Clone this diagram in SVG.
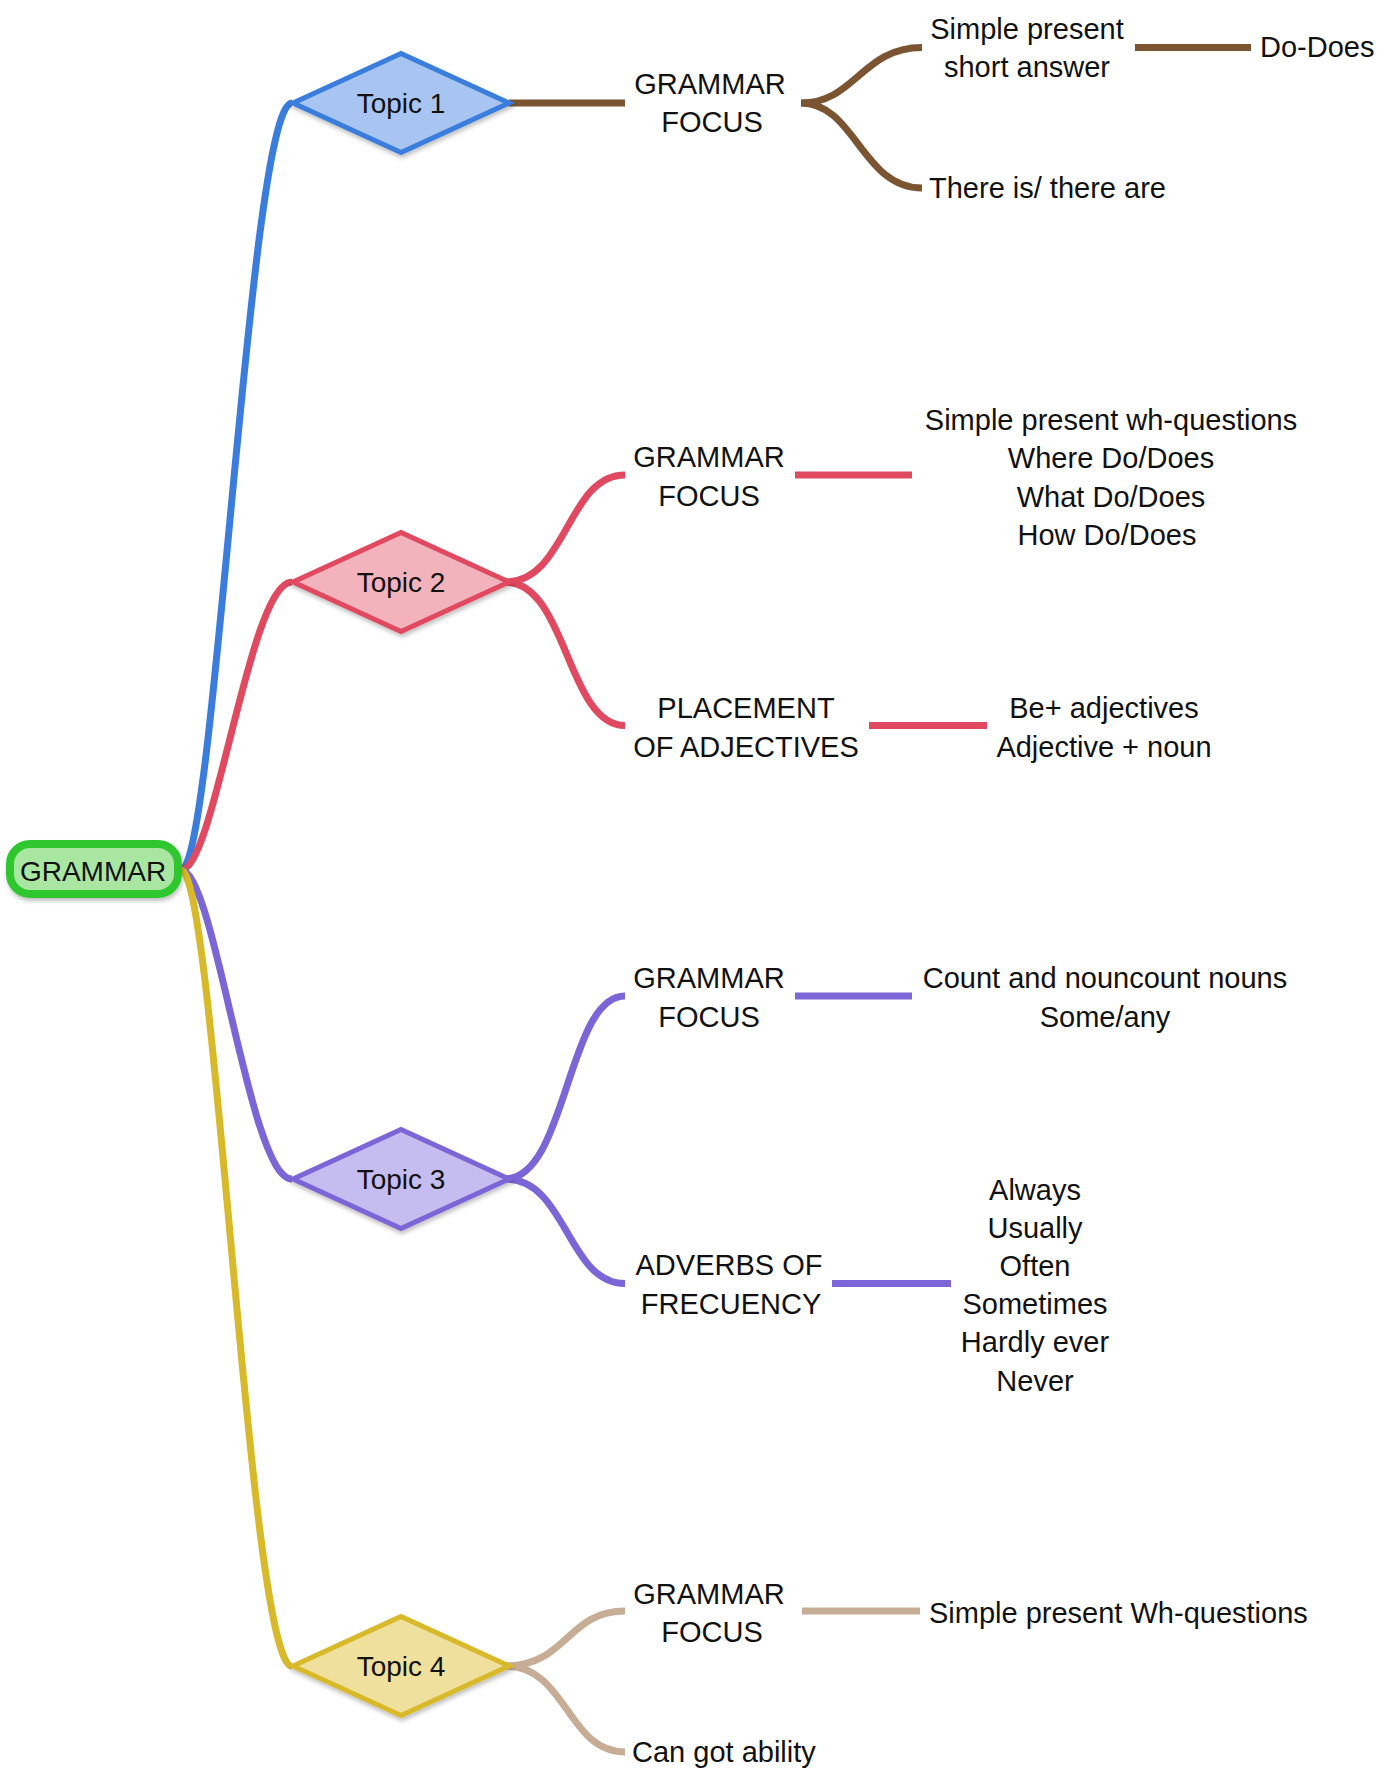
<svg xmlns="http://www.w3.org/2000/svg" width="1390" height="1775" viewBox="0 0 1390 1775">
<defs>
<filter id="sh" x="-10%" y="-10%" width="130%" height="140%">
<feDropShadow dx="1" dy="3" stdDeviation="2" flood-color="#000" flood-opacity="0.25"/>
</filter>
</defs>
<style>
text{font-family:"Liberation Sans",Arial,sans-serif;font-size:29px;fill:#111;}
.c{text-anchor:middle;}
.t{font-size:28px;}
.ln{fill:none;stroke-width:7;stroke-linecap:butt;}
.blue{stroke:#3a7ddc;}
.red{stroke:#e0495f;}
.pur{stroke:#7a66d6;}
.yel{stroke:#d8b92a;}
.brn{stroke:#7b5432;}
.tan{stroke:#c8ad96;}
.dia{stroke-width:5;stroke-linejoin:miter;filter:url(#sh);}
</style>
<rect width="1390" height="1775" fill="#fff"/>
<g id="connectors">
<path class="ln blue" d="M181,870 C215,870 249,103 292,103"/>
<path class="ln red" d="M181,870 C215,870 249,582 292,582"/>
<path class="ln pur" d="M181,870 C215,870 249,1179 292,1179"/>
<path class="ln yel" d="M181,870 C215,870 249,1666 292,1666"/>
<path class="ln brn" d="M509,103 L625,103"/>
<path class="ln brn" d="M801,103 C855,103 862,47.5 922,47.5"/>
<path class="ln brn" d="M801,103 C855,103 862,188 922,188"/>
<path class="ln brn" d="M1135,47.5 L1251,47.5"/>
<path class="ln red" d="M505,582 C567,582 567,475 625,475"/>
<path class="ln red" d="M505,582 C567,582 567,725.5 625,725.5"/>
<path class="ln red" d="M795,475 L912,475"/>
<path class="ln red" d="M869,725.5 L987,725.5"/>
<path class="ln pur" d="M505,1179 C567,1179 567,996 625,996"/>
<path class="ln pur" d="M505,1179 C567,1179 567,1283.5 625,1283.5"/>
<path class="ln pur" d="M795,996 L912,996"/>
<path class="ln pur" d="M832,1283.5 L951,1283.5"/>
<path class="ln tan" d="M505,1666 C567,1666 567,1611 625,1611"/>
<path class="ln tan" d="M505,1666 C567,1666 567,1752 625,1752"/>
<path class="ln tan" d="M802,1611 L920,1611"/>
</g>
<g id="root">
<rect x="10" y="844" width="168" height="50" rx="20" fill="#a9e6a2" stroke="#2fc82f" stroke-width="8" filter="url(#sh)"/>
<text class="c t" x="93" y="881">GRAMMAR</text>
</g>
<g id="topic1">
<polygon class="dia" points="293,103 401,53.5 509,103 401,152.5" fill="#a7c5f0" stroke="#3a7ddc"/>
<text class="c t" x="401" y="113">Topic 1</text>
</g>
<g id="topic2">
<polygon class="dia" points="293,582 401,532.5 509,582 401,631.5" fill="#f2b3bd" stroke="#e0495f"/>
<text class="c t" x="401" y="592">Topic 2</text>
</g>
<g id="topic3">
<polygon class="dia" points="293,1179 401,1129.5 509,1179 401,1228.5" fill="#c5bcef" stroke="#7a66d6"/>
<text class="c t" x="401" y="1189">Topic 3</text>
</g>
<g id="topic4">
<polygon class="dia" points="293,1666 401,1616.5 509,1666 401,1715.5" fill="#efe19d" stroke="#d8b92a"/>
<text class="c t" x="401" y="1676">Topic 4</text>
</g>
<g id="t1-focus"><text class="c" x="710" y="94">GRAMMAR</text><text class="c" x="712" y="132">FOCUS</text></g>
<g id="t1-short"><text class="c" x="1027" y="39">Simple present</text><text class="c" x="1027" y="77">short answer</text></g>
<g id="t1-dodoes"><text x="1260" y="57">Do-Does</text></g>
<g id="t1-there"><text x="929" y="198">There is/ there are</text></g>
<g id="t2-focus"><text class="c" x="709" y="467">GRAMMAR</text><text class="c" x="709" y="506">FOCUS</text></g>
<g id="t2-wh"><text class="c" x="1111" y="430">Simple present wh-questions</text><text class="c" x="1111" y="468">Where Do/Does</text><text class="c" x="1111" y="507">What Do/Does</text><text class="c" x="1107" y="545">How Do/Does</text></g>
<g id="t2-placement"><text class="c" x="746" y="718">PLACEMENT</text><text class="c" x="746" y="757">OF ADJECTIVES</text></g>
<g id="t2-adj"><text class="c" x="1104" y="718">Be+ adjectives</text><text class="c" x="1104" y="757">Adjective + noun</text></g>
<g id="t3-focus"><text class="c" x="709" y="988">GRAMMAR</text><text class="c" x="709" y="1027">FOCUS</text></g>
<g id="t3-count"><text class="c" x="1105" y="988">Count and nouncount nouns</text><text class="c" x="1105" y="1027">Some/any</text></g>
<g id="t3-adverbs"><text class="c" x="729" y="1275">ADVERBS OF</text><text class="c" x="731" y="1314">FRECUENCY</text></g>
<g id="t3-list"><text class="c" x="1035" y="1200">Always</text><text class="c" x="1035" y="1238">Usually</text><text class="c" x="1035" y="1276">Often</text><text class="c" x="1035" y="1314">Sometimes</text><text class="c" x="1035" y="1352">Hardly ever</text><text class="c" x="1035" y="1391">Never</text></g>
<g id="t4-focus"><text class="c" x="709" y="1604">GRAMMAR</text><text class="c" x="712" y="1642">FOCUS</text></g>
<g id="t4-wh"><text x="929" y="1623">Simple present Wh-questions</text></g>
<g id="t4-can"><text x="632" y="1762">Can got ability</text></g>
</svg>
